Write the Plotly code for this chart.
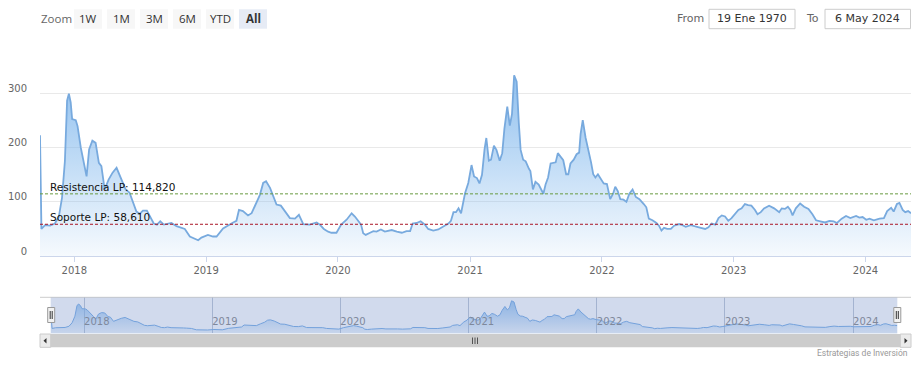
import plotly.graph_objects as go

W, H = 923, 368

# ---------------- data ----------------
dates = [
    "2017-09-28", "2017-10-02", "2017-10-12", "2017-10-26", "2017-11-08", "2017-11-19", "2017-11-28",
    "2017-12-06", "2017-12-12", "2017-12-17", "2017-12-22", "2017-12-26", "2018-01-05", "2018-01-10",
    "2018-01-19", "2018-01-28", "2018-02-04", "2018-02-11", "2018-02-20", "2018-03-01", "2018-03-10",
    "2018-03-17", "2018-03-26", "2018-04-06", "2018-04-17", "2018-04-28", "2018-05-10", "2018-05-23",
    "2018-06-03", "2018-06-13", "2018-06-22", "2018-07-01", "2018-07-10", "2018-07-21", "2018-07-31",
    "2018-08-09", "2018-08-18", "2018-08-27", "2018-09-06", "2018-09-17", "2018-09-27", "2018-10-11",
    "2018-10-20", "2018-10-29", "2018-11-03", "2018-11-17", "2018-11-28", "2018-12-10", "2018-12-19",
    "2019-01-06", "2019-01-20", "2019-01-30", "2019-02-17", "2019-03-03", "2019-03-17", "2019-03-26",
    "2019-04-02", "2019-04-13", "2019-04-27", "2019-05-07", "2019-05-19", "2019-05-30", "2019-06-08",
    "2019-06-16", "2019-06-27", "2019-07-06", "2019-07-15", "2019-07-27", "2019-08-07", "2019-08-21",
    "2019-09-04", "2019-09-15", "2019-09-27", "2019-10-15", "2019-11-03", "2019-11-12", "2019-11-23",
    "2019-12-05", "2019-12-14", "2019-12-28", "2020-01-10", "2020-01-25", "2020-02-08", "2020-02-17",
    "2020-02-26", "2020-03-05", "2020-03-11", "2020-03-18", "2020-03-30", "2020-04-08", "2020-04-17",
    "2020-04-29", "2020-05-10", "2020-05-29", "2020-06-12", "2020-06-26", "2020-07-09", "2020-07-19",
    "2020-07-26", "2020-08-06", "2020-08-17", "2020-08-29", "2020-09-07", "2020-09-21", "2020-10-05",
    "2020-10-19", "2020-11-02", "2020-11-09", "2020-11-16", "2020-11-23", "2020-11-30", "2020-12-07",
    "2020-12-18", "2020-12-27", "2021-01-05", "2021-01-12", "2021-01-20", "2021-01-27", "2021-02-03",
    "2021-02-10", "2021-02-15", "2021-02-22", "2021-02-28", "2021-03-08", "2021-03-15", "2021-03-24",
    "2021-03-31", "2021-04-06", "2021-04-14", "2021-04-21", "2021-04-27", "2021-05-03", "2021-05-10",
    "2021-05-16", "2021-05-21", "2021-05-28", "2021-06-04", "2021-06-13", "2021-06-17", "2021-06-24",
    "2021-07-01", "2021-07-10", "2021-07-23", "2021-07-29", "2021-08-05", "2021-08-12", "2021-08-26",
    "2021-09-01", "2021-09-09", "2021-09-16", "2021-09-24", "2021-09-30", "2021-10-06", "2021-10-15",
    "2021-10-23", "2021-10-30", "2021-11-03", "2021-11-09", "2021-11-17", "2021-11-26", "2021-12-02",
    "2021-12-08", "2021-12-14", "2021-12-21", "2021-12-30", "2022-01-06", "2022-01-15", "2022-01-24",
    "2022-02-01", "2022-02-07", "2022-02-14", "2022-02-21", "2022-03-02", "2022-03-10", "2022-03-18",
    "2022-03-27", "2022-04-05", "2022-04-15", "2022-04-27", "2022-05-04", "2022-05-11", "2022-05-21",
    "2022-06-01", "2022-06-08", "2022-06-15", "2022-06-22", "2022-07-01", "2022-07-11", "2022-07-20",
    "2022-08-03", "2022-08-12", "2022-08-21", "2022-09-04", "2022-09-18", "2022-10-02", "2022-10-14",
    "2022-10-23", "2022-11-01", "2022-11-11", "2022-11-20", "2022-11-29", "2022-12-08", "2022-12-17",
    "2022-12-26", "2023-01-05", "2023-01-14", "2023-01-23", "2023-02-01", "2023-02-10", "2023-02-19",
    "2023-03-01", "2023-03-08", "2023-03-17", "2023-03-26", "2023-04-09", "2023-04-23", "2023-05-07",
    "2023-05-14", "2023-05-23", "2023-05-31", "2023-06-07", "2023-06-13", "2023-06-22", "2023-07-04",
    "2023-07-15", "2023-07-27", "2023-08-07", "2023-08-17", "2023-08-29", "2023-09-11", "2023-09-23",
    "2023-10-05", "2023-10-14", "2023-10-27", "2023-11-08", "2023-11-20", "2023-12-06", "2023-12-15",
    "2023-12-24", "2024-01-03", "2024-01-12", "2024-01-24", "2024-02-09", "2024-02-21", "2024-03-01",
    "2024-03-12", "2024-03-19", "2024-03-28", "2024-04-04", "2024-04-13", "2024-04-20", "2024-04-28",
    "2024-05-06",
]
values = [
    223, 50, 57, 56, 60, 72, 108,
    176, 287, 300, 284, 253, 251, 240,
    200, 172, 147, 197, 213, 209, 172,
    166, 123, 141, 154, 163, 144, 123,
    117, 98, 82, 78, 84, 84, 72,
    60, 58, 64, 58, 59, 61, 55,
    53, 51, 50, 36, 33, 29, 34,
    39, 36, 36, 51, 57, 62, 65,
    85, 83, 75, 79, 98, 113, 135,
    138, 126, 110, 95, 93, 83, 70,
    69, 76, 59, 58, 62, 58, 50,
    45, 43, 43, 58, 67, 79, 73,
    65, 58, 42, 39, 43, 46, 45,
    49, 45, 48, 45, 43, 46, 46,
    60, 61, 64, 58, 50, 47, 49,
    55, 60, 65, 81, 81, 88, 79,
    116, 135, 168, 147, 144, 134, 150,
    197, 218, 176, 178, 204, 196, 176,
    190, 235, 276, 241, 262, 334, 322,
    245, 196, 178, 175, 161, 157, 123,
    137, 132, 115, 132, 145, 171, 173,
    190, 182, 177, 151, 151, 171, 178,
    188, 191, 225, 251, 218, 193, 173,
    151, 145, 151, 141, 134, 133, 105,
    115, 128, 120, 105, 104, 100, 115,
    123, 109, 105, 96, 90, 69, 66,
    61, 56, 47, 52, 50, 50, 56,
    59, 57, 54, 57, 54, 52, 50,
    53, 60, 58, 70, 75, 73, 65,
    70, 79, 85, 88, 96, 94, 93,
    85, 77, 81, 88, 93, 88, 81,
    88, 87, 91, 85, 75, 88, 97,
    91, 87, 77, 66, 64, 62, 65,
    64, 61, 69, 74, 70, 74, 71,
    72, 67, 69, 66, 69, 70, 83,
    89, 82, 96, 98, 85, 81, 83,
    79,
]

resistance_value = 114.82
support_value = 58.61
resistance_label = "Resistencia LP: 114,820"
support_label = "Soporte LP: 58,610"

y_tick_values = [0, 100, 200, 300, 400]
y_tick_labels = ["0", "100", "200", "300", ""]

zoom_buttons = ["1W", "1M", "3M", "6M", "YTD", "All"]
selected_button = "All"
from_date_label = "19 Ene 1970"
to_date_label = "6 May 2024"
credit_text = "Estrategias de Inversión"

# ---------------- helpers (pixel -> paper) ----------------
def fx(p):
    return p / W


def fy(p):
    return 1 - p / H


FONT = "DejaVu Sans"
BTN_FONT = "Open Sans"

fig = go.Figure()

# main area series
fig.add_trace(go.Scatter(
    x=dates, y=values, mode="lines",
    line=dict(color="#78aade", width=1.8),
    fill="tozeroy",
    fillgradient=dict(type="vertical",
                      colorscale=[[0, "rgba(124,181,236,0.07)"], [1, "rgba(124,181,236,0.85)"]],
                      start=0, stop=334),
    xaxis="x", yaxis="y", hoverinfo="skip", showlegend=False,
))

# navigator series
fig.add_trace(go.Scatter(
    x=dates, y=values, mode="lines",
    line=dict(color="#7aaee6", width=1),
    fill="tozeroy",
    fillgradient=dict(type="vertical",
                      colorscale=[[0, "rgba(124,181,236,0.1)"], [1, "rgba(124,181,236,0.75)"]],
                      start=0, stop=334),
    xaxis="x2", yaxis="y2", hoverinfo="skip", showlegend=False,
))

shapes = []
annotations = []

# plot lines
for val, col in [(resistance_value, "rgb(105,155,65)"), (support_value, "rgb(170,22,38)")]:
    shapes.append(dict(type="line", xref="x domain", x0=0, x1=1, yref="y", y0=val, y1=val,
                       line=dict(color=col, width=1, dash="3px,2px"), layer="above"))
for val, txt in [(resistance_value, resistance_label), (support_value, support_label)]:
    annotations.append(dict(xref="paper", x=fx(48), xanchor="left", yref="y", y=val,
                            yanchor="bottom", yshift=-1, text=txt, showarrow=False,
                            font=dict(family=FONT, size=10.5, color="#111")))

# zoom buttons
annotations.append(dict(xref="paper", yref="paper", x=fx(39), y=fy(19), xanchor="left", yanchor="middle",
                        text="Zoom", showarrow=False, font=dict(family=BTN_FONT, size=11.5, color="#666")))
bx = 74
for b in zoom_buttons:
    sel = (b == selected_button)
    shapes.append(dict(type="rect", xref="paper", yref="paper", x0=fx(bx), x1=fx(bx + 28),
                       y0=fy(28.7), y1=fy(9.3), fillcolor="#e6ebf5" if sel else "#f7f7f7",
                       line=dict(width=0), layer="above"))
    annotations.append(dict(xref="paper", yref="paper", x=fx(bx + 14), y=fy(19), xanchor="center",
                            yanchor="middle", text=f"<b>{b}</b>" if sel else b, showarrow=False,
                            font=dict(family=BTN_FONT, size=11.5, color="#333")))
    bx += 33

# From / To inputs
annotations.append(dict(xref="paper", yref="paper", x=fx(675), y=fy(19), xanchor="left", yanchor="middle",
                        text="From", showarrow=False, font=dict(family=FONT, size=11, color="#666")))
annotations.append(dict(xref="paper", yref="paper", x=fx(804), y=fy(19), xanchor="left", yanchor="middle",
                        text="To", showarrow=False, font=dict(family=FONT, size=11, color="#666")))
for x0, x1, txt in [(709, 795, from_date_label), (825, 910.5, to_date_label)]:
    shapes.append(dict(type="rect", xref="paper", yref="paper", x0=fx(x0), x1=fx(x1),
                       y0=fy(28.7), y1=fy(9.3), fillcolor="white",
                       line=dict(width=1, color="#cccccc"), layer="above"))
    annotations.append(dict(xref="paper", yref="paper", x=fx((x0 + x1) / 2), y=fy(19), xanchor="center",
                            yanchor="middle", text=txt, showarrow=False,
                            font=dict(family=FONT, size=11, color="#333")))

# navigator outline + mask
shapes.append(dict(type="line", xref="paper", yref="paper", x0=fx(40), x1=fx(911), y0=fy(297.3), y1=fy(297.3),
                   line=dict(color="#cccccc", width=1), layer="above"))
shapes.append(dict(type="rect", xref="paper", yref="paper", x0=fx(50.7), x1=fx(897.3),
                   y0=fy(333.5), y1=fy(297.5), fillcolor="rgba(102,133,194,0.3)",
                   line=dict(width=0), layer="above"))

# scrollbar
shapes.append(dict(type="rect", xref="paper", yref="paper", x0=fx(40), x1=fx(911), y0=fy(347.3), y1=fy(334),
                   fillcolor="#cccccc", line=dict(width=0), layer="above"))
for x0, x1 in [(40, 50.7), (900.3, 911)]:
    shapes.append(dict(type="rect", xref="paper", yref="paper", x0=fx(x0), x1=fx(x1), y0=fy(347.3), y1=fy(334),
                       fillcolor="#ebebeb", line=dict(width=1, color="#cccccc"), layer="above"))
# arrows
shapes.append(dict(type="path", xref="paper", yref="paper",
                   path=f"M {fx(46.5)} {fy(338)} L {fx(43.5)} {fy(340.7)} L {fx(46.5)} {fy(343.4)} Z",
                   fillcolor="#333", line=dict(width=0), layer="above"))
shapes.append(dict(type="path", xref="paper", yref="paper",
                   path=f"M {fx(904.5)} {fy(338)} L {fx(907.5)} {fy(340.7)} L {fx(904.5)} {fy(343.4)} Z",
                   fillcolor="#333", line=dict(width=0), layer="above"))
# grip
for gx in (472.5, 475, 477.5):
    shapes.append(dict(type="line", xref="paper", yref="paper", x0=fx(gx), x1=fx(gx), y0=fy(337.5), y1=fy(344),
                       line=dict(color="#333", width=0.8), layer="above"))

# navigator handles
for cx in (51.2, 897.3):
    shapes.append(dict(type="rect", xref="paper", yref="paper", x0=fx(cx - 3.5), x1=fx(cx + 3.5),
                       y0=fy(322.5), y1=fy(307.5), fillcolor="#f2f2f2",
                       line=dict(width=1, color="#999999"), layer="above"))
    for dx in (-1, 1):
        shapes.append(dict(type="line", xref="paper", yref="paper", x0=fx(cx + dx), x1=fx(cx + dx),
                           y0=fy(311), y1=fy(319), line=dict(color="#333", width=1), layer="above"))

# credit
annotations.append(dict(xref="paper", yref="paper", x=fx(910), y=fy(353), xanchor="right", yanchor="middle",
                        text=credit_text, showarrow=False, font=dict(family="Roboto", size=8.5, color="#999")))

fig.update_layout(
    width=W, height=H, autosize=False,
    margin=dict(l=0, r=0, t=0, b=0, pad=0, autoexpand=False),
    paper_bgcolor="white", plot_bgcolor="rgba(0,0,0,0)",
    showlegend=False,
    shapes=shapes, annotations=annotations,
    xaxis=dict(
        domain=[fx(40), fx(911)], range=[dates[0], dates[-1]], type="date",
        showgrid=False, zeroline=False, automargin=False,
        showline=True, linecolor="#ccd6eb", linewidth=1,
        ticks="outside", ticklen=5, tickcolor="#ccd6eb",
        tick0="2018-01-01", dtick="M12", tickformat="%Y",
        tickfont=dict(family=FONT, size=10, color="#666"),
        anchor="y", fixedrange=True,
    ),
    yaxis=dict(
        domain=[fy(256), fy(39.5)], range=[0, 400],
        tickvals=y_tick_values, ticktext=y_tick_labels,
        showgrid=True, gridcolor="#e9e9e9", gridwidth=1, zeroline=False, showline=False,
        automargin=False,
        ticks="", ticklabelshift=-5, ticklabelstandoff=12,
        tickfont=dict(family=FONT, size=10, color="#666"),
        anchor="x", fixedrange=True,
    ),
    xaxis2=dict(
        domain=[fx(50.7), fx(897.3)], range=[dates[0], dates[-1]], type="date",
        showgrid=True, gridcolor="#bfc7d6", gridwidth=1, zeroline=False, showline=False,
        automargin=False,
        ticks="", tick0="2018-01-01", dtick="M12", tickformat="%Y",
        ticklabelposition="inside right",
        tickfont=dict(family=FONT, size=10, color="#8a8a8a"),
        anchor="y2", fixedrange=True,
    ),
    yaxis2=dict(
        domain=[fy(333.3), fy(297.3)], range=[0, 370],
        visible=False, showgrid=False, zeroline=False, automargin=False,
        anchor="x2", fixedrange=True,
    ),
)

fig.write_html("out.html", config={"displayModeBar": False, "staticPlot": True, "responsive": False},
               post_script="document.body.style.margin='0';")
